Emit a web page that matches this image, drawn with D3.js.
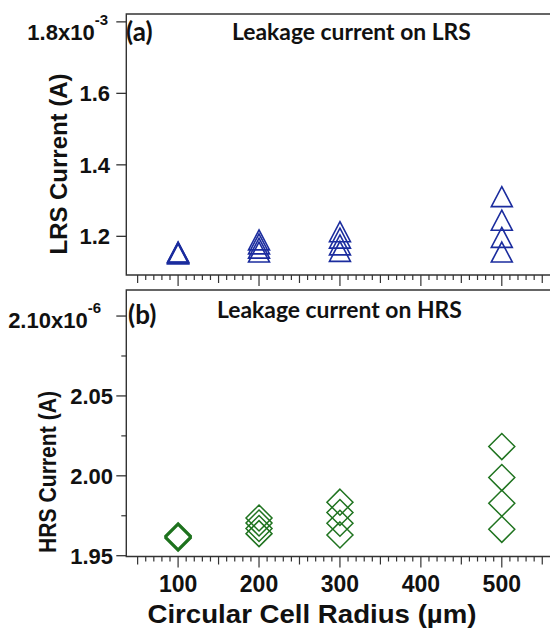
<!DOCTYPE html>
<html>
<head>
<meta charset="utf-8">
<script src="https://cdn.jsdelivr.net/npm/d3@7"></script>
<style>
  html, body { margin: 0; padding: 0; background: #fff; }
  svg { display: block; }
</style>
</head>
<body>
<svg id="chart" width="550" height="629"></svg>
<script>
// Cell radii (µm) measured
const radii = [100, 200, 300, 500];

// LRS leakage current, units of 1e-3 A, four devices per radius
const lrsCurrent = [
  [1.151, 1.153, 1.155, 1.156],
  [1.156, 1.167, 1.179, 1.190],
  [1.158, 1.176, 1.195, 1.213],
  [1.156, 1.197, 1.245, 1.311]
];

// HRS leakage current, units of 1e-6 A, four devices per radius
const hrsCurrent = [
  [1.9610, 1.9615, 1.9620, 1.9625],
  [1.9638, 1.9670, 1.9705, 1.9736],
  [1.9630, 1.9703, 1.9770, 1.9835],
  [1.9665, 1.9828, 1.9989, 2.0183]
];

// Axis tick values and labels
const lrsTicks = [1.8, 1.6, 1.4, 1.2];
const lrsTickLabels = ["1.8x10", "1.6", "1.4", "1.2"];
const hrsTicks = [2.10, 2.05, 2.00, 1.95];
const hrsTickLabels = ["2.10x10", "2.05", "2.00", "1.95"];
const hrsMinorTicks = [2.075, 2.025, 1.975];
const radiusTicks = [100, 200, 300, 400, 500];

const svg = d3.select("#chart");
const axisColor = "#333";
const blue = "#1b2c9e";
const green = "#1f731f";
const numFont = "'Liberation Sans', Arial, sans-serif";
const titleFont = "Lato, 'Open Sans', sans-serif";

// Shared radius scale
const x = d3.scaleLinear().domain([36, 565]).range([126.3, 554.4]);

// Panel scales
const yA = d3.scaleLinear().domain([1.0918, 1.822]).range([275, 14]);
const yB = d3.scaleLinear().domain([1.9495, 2.1163]).range([556.5, 290]);

function drawFrame(g, y) {
  const [y0, y1] = y.range();
  const xl = x.range()[0], xr = 552;
  g.append("path")
    .attr("d", `M${xr},${y1}H${xl}V${y0}H${xr}`)
    .attr("fill", "none").attr("stroke", axisColor).attr("stroke-width", 1.4);
  // radius ticks: every 10, medium every 50, long every 100
  const minor = d3.range(50, 560, 10);
  g.selectAll(".xt").data(minor).join("line")
    .attr("x1", d => x(d)).attr("x2", d => x(d))
    .attr("y1", y0)
    .attr("y2", d => y0 + (d % 100 === 0 ? 11 : d % 50 === 0 ? 8 : 5))
    .attr("stroke", axisColor).attr("stroke-width", 1.2);
}

function drawYTicks(g, y, ticks, labels, minorTicks, expText, expEnd, labelEnd) {
  const xl = x.range()[0];
  g.selectAll(".yt").data(ticks).join("line")
    .attr("x1", xl - 10).attr("x2", xl)
    .attr("y1", d => y(d)).attr("y2", d => y(d))
    .attr("stroke", axisColor).attr("stroke-width", 1.3);
  g.selectAll(".ym").data(minorTicks).join("line")
    .attr("x1", xl - 5).attr("x2", xl)
    .attr("y1", d => y(d)).attr("y2", d => y(d))
    .attr("stroke", axisColor).attr("stroke-width", 1.2);
  ticks.forEach((t, i) => {
    const txt = g.append("text")
      .attr("font-family", numFont).attr("font-weight", "bold")
      .attr("font-size", 22).attr("fill", "#111")
      .attr("text-anchor", "end");
    if (i === 0) {
      txt.attr("x", expEnd.x).attr("y", y(t) + expEnd.dy);
      txt.append("tspan").text(labels[i]);
      txt.append("tspan").attr("font-size", 15).attr("dy", -15).text(expText);
    } else {
      txt.attr("x", labelEnd).attr("y", y(t) + 8).text(labels[i]);
    }
  });
}

const triangle = "M0,-10L10.5,10L-10.5,10Z";
const diamond = "M0,-13L13,0L0,13L-13,0Z";

// ---- Panel (a): LRS ----
const gA = svg.append("g");
drawFrame(gA, yA);
drawYTicks(gA, yA, lrsTicks, lrsTickLabels, [], "-3", { x: 108, dy: 18 }, 110);

const ptsA = radii.flatMap((r, i) => lrsCurrent[i].map(v => ({ r, v })));
gA.selectAll(".tri").data(ptsA).join("path")
  .attr("d", triangle)
  .attr("transform", d => `translate(${x(d.r)},${yA(d.v)})`)
  .attr("fill", "none").attr("stroke", blue).attr("stroke-width", 1.6);

gA.append("text").attr("x", 126).attr("y", 41)
  .attr("font-family", titleFont).attr("font-weight", "bold").attr("font-size", 26)
  .attr("fill", "#111").text("(a)");
const tA = gA.append("text").attr("x", 232).attr("y", 40)
  .attr("font-family", titleFont).attr("font-weight", "bold").attr("font-size", 20)
  .attr("fill", "#111").text("Leakage current on LRS");

gA.append("text")
  .attr("transform", "translate(67,164) rotate(-90)")
  .attr("text-anchor", "middle")
  .attr("font-family", numFont).attr("font-weight", "bold").attr("font-size", 23)
  .attr("textLength", 181).attr("lengthAdjust", "spacingAndGlyphs")
  .attr("fill", "#111").text("LRS Current (A)");

// ---- Panel (b): HRS ----
const gB = svg.append("g");
drawFrame(gB, yB);
drawYTicks(gB, yB, hrsTicks, hrsTickLabels, hrsMinorTicks, "-6", { x: 101, dy: 12 }, 113);

const ptsB = radii.flatMap((r, i) => hrsCurrent[i].map(v => ({ r, v })));
gB.selectAll(".dia").data(ptsB).join("path")
  .attr("d", diamond)
  .attr("transform", d => `translate(${x(d.r)},${yB(d.v)})`)
  .attr("fill", "none").attr("stroke", green).attr("stroke-width", 1.5);

gB.append("text").attr("x", 128).attr("y", 324)
  .attr("font-family", titleFont).attr("font-weight", "bold").attr("font-size", 26)
  .attr("fill", "#111").text("(b)");
const tB = gB.append("text").attr("x", 217).attr("y", 318)
  .attr("font-family", titleFont).attr("font-weight", "bold").attr("font-size", 20)
  .attr("fill", "#111").text("Leakage current on HRS");

gB.append("text")
  .attr("transform", "translate(56,472) rotate(-90)")
  .attr("text-anchor", "middle")
  .attr("font-family", numFont).attr("font-weight", "bold").attr("font-size", 23)
  .attr("textLength", 162).attr("lengthAdjust", "spacingAndGlyphs")
  .attr("fill", "#111").text("HRS Current (A)");

// radius tick labels under the lower axis
gB.selectAll(".xl").data(radiusTicks).join("text")
  .attr("x", d => x(d)).attr("y", 592)
  .attr("text-anchor", "middle")
  .attr("font-family", numFont).attr("font-weight", "bold").attr("font-size", 23)
  .attr("fill", "#111").text(d => d);

svg.append("text")
  .attr("x", 312).attr("y", 623)
  .attr("text-anchor", "middle")
  .attr("font-family", numFont).attr("font-weight", "bold").attr("font-size", 25)
  .attr("textLength", 329).attr("lengthAdjust", "spacingAndGlyphs")
  .attr("fill", "#111").text("Circular Cell Radius (µm)");

// size the panel titles to their measured widths
[[tA, 239], [tB, 245]].forEach(([t, w]) => {
  const len = t.node().getComputedTextLength();
  t.attr("font-size", 20 * w / len);
});
</script>
</body>
</html>
